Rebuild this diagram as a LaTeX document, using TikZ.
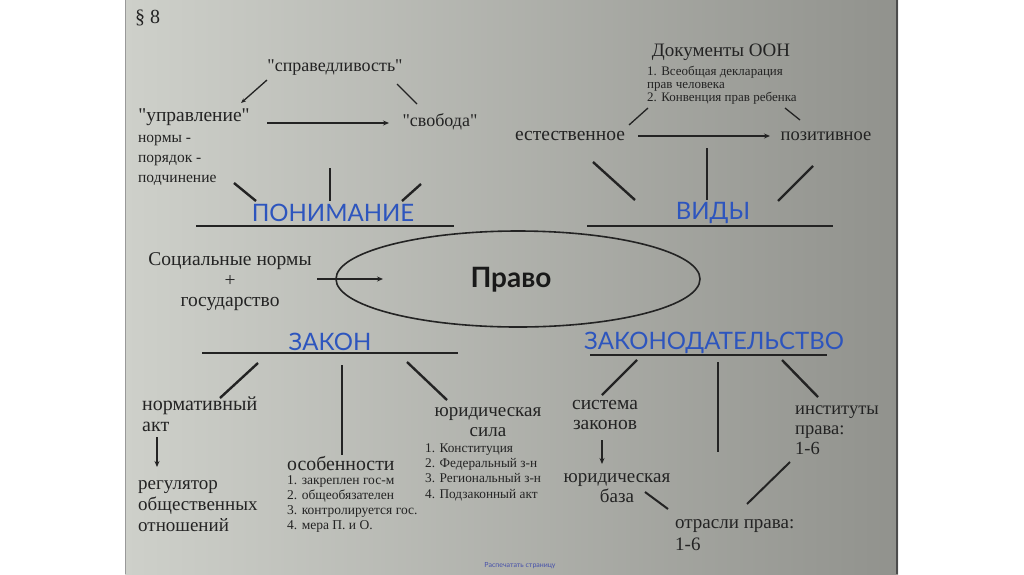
\documentclass[tikz,border=0pt]{standalone}
\usepackage{fontspec}
\setmainfont{Liberation Serif}
\newfontfamily\headfont{Lato}
\usetikzlibrary{arrows.meta,shapes.geometric}
\definecolor{headblue}{RGB}{45,85,190}
\definecolor{ink}{RGB}{35,35,35}
\definecolor{scrL}{RGB}{206,208,202}
\definecolor{scrR}{RGB}{145,146,141}
\definecolor{linkblue}{RGB}{70,80,170}
\newcommand{\q}{\textquotedbl}
\begin{document}
\begin{tikzpicture}[x=1pt,y=-1pt,
  txt/.style n args={2}{inner sep=0pt, text=ink, font=\fontsize{#1}{#2}\selectfont},
  head/.style={inner sep=0pt, text=headblue, font=\headfont\fontsize{24}{26}\selectfont},
  br/.style={draw=ink, line width=2.4pt},
  ul/.style={draw=ink, line width=2.6pt},
  arr/.style={draw=ink, line width=1.5pt, -{Stealth[length=6pt,width=5pt]}},
  thin/.style={draw=ink, line width=1.3pt}]
\useasboundingbox (0,0) rectangle (1024,574);
\fill[white] (0,0) rectangle (1024,574);
\shade[left color=scrL, right color=scrR] (125,0) rectangle (898,574);
\draw[line width=1.5pt, black!70] (897,0) -- (897,574);
\draw[line width=1pt, black!40] (125.5,0) -- (125.5,574);

% ---- top left
\node[txt={20}{22}, anchor=west] (sec) at (135,18) {§ 8};
\node[txt={18}{20}] (sprav) at (335,68) {\q справедливость\q};
\node[txt={19.5}{20}] (uprav) at (194,117) {\q управление\q};
\node[txt={15.5}{20}, anchor=west, align=left] (normy) at (138,160) {нормы -\\порядок -\\подчинение};
\node[txt={18}{20}] (svob) at (440,122) {\q свобода\q};
\node[head] (ponim) at (333,213) {ПОНИМАНИЕ};

\coordinate (a1) at (267,80); \coordinate (a2) at (241,103);
\draw[thin, -{Stealth[length=5pt,width=4pt]}] (a1) -- (a2);
\coordinate (b1) at (397,84); \coordinate (b2) at (417,104);
\draw[thin] (b1) -- (b2);
\coordinate (c1) at (267,123); \coordinate (c2) at (389,123);
\draw[arr] (c1) -- (c2);
\coordinate (p1a) at (234,183); \coordinate (p1b) at (256,201);
\coordinate (p2a) at (330,168); \coordinate (p2b) at (330,201);
\coordinate (p3a) at (421,184); \coordinate (p3b) at (402,201);
\draw[br] (p1a) -- (p1b); \draw[br] (p2a) -- (p2b); \draw[br] (p3a) -- (p3b);
\coordinate (u1a) at (196,226); \coordinate (u1b) at (454,226);
\draw[ul] (u1a) -- (u1b);

% ---- top right
\node[txt={19}{20}] (docs) at (721,52) {Документы ООН};
\node[txt={13}{13}, anchor=west, align=left] (docl) at (647,85) {1. Всеобщая декларация\\прав человека\\2. Конвенция прав ребенка};
\node[txt={19.5}{20}] (est) at (570,136) {естественное};
\node[txt={18.5}{20}] (poz) at (826,136) {позитивное};
\node[head] (vidy) at (713,213) {ВИДЫ};
\coordinate (d1) at (648,108); \coordinate (d2) at (629,125);
\coordinate (e1) at (785,108); \coordinate (e2) at (800,120);
\draw[thin] (d1) -- (d2); \draw[thin] (e1) -- (e2);
\coordinate (f1) at (638,136); \coordinate (f2) at (770,136);
\draw[arr] (f1) -- (f2);
\coordinate (v1a) at (593,162); \coordinate (v1b) at (635,200);
\coordinate (v2a) at (707,148); \coordinate (v2b) at (707,200);
\coordinate (v3a) at (813,166); \coordinate (v3b) at (778,201);
\draw[br] (v1a) -- (v1b); \draw[br] (v2a) -- (v2b); \draw[br] (v3a) -- (v3b);
\coordinate (u2a) at (587,226); \coordinate (u2b) at (833,226);
\draw[ul] (u2a) -- (u2b);

% ---- middle
\node[txt={19.5}{20.5}, align=center] (socn) at (230,282) {Социальные нормы\\+\\государство};
\node[draw=ink, line width=1.6pt, ellipse, minimum width=364pt, minimum height=96pt, inner sep=0pt] (ell) at (518,279) {};
\node[inner sep=0pt, text=black!90, font=\headfont\bfseries\fontsize{28}{30}\selectfont] (pravo) at (511,280) {Право};
\coordinate (g1) at (317,279); \coordinate (g2) at (383,279);
\draw[arr] (g1) -- (g2);

% ---- bottom left
\node[head] (zakon) at (330,342) {ЗАКОН};
\coordinate (u3a) at (202,353); \coordinate (u3b) at (458,353);
\draw[ul] (u3a) -- (u3b);
\coordinate (z1a) at (258,363); \coordinate (z1b) at (220,398);
\coordinate (z2a) at (342,365); \coordinate (z2b) at (342,455);
\coordinate (z3a) at (407,362); \coordinate (z3b) at (447,400);
\draw[br] (z1a) -- (z1b); \draw[br] (z2a) -- (z2b); \draw[br] (z3a) -- (z3b);
\node[txt={20}{21.5}, anchor=west, align=left] (nakt) at (142,414) {нормативный\\акт};
\coordinate (h1) at (157,437); \coordinate (h2) at (157,467);
\draw[arr] (h1) -- (h2);
\node[txt={19}{21}, anchor=west, align=left] (regul) at (138,506) {регулятор\\общественных\\отношений};
\node[txt={19.8}{21}, anchor=west] (osob) at (287,463) {особенности};
\node[txt={13.5}{15.3}, anchor=west, align=left] (osobl) at (287,504) {1. закреплен гос-м\\2. общеобязателен\\3. контролируется гос.\\4. мера П. и О.};
\node[txt={19}{20}, align=center] (ysila) at (488,422) {юридическая\\сила};
\node[txt={13.3}{15.3}, anchor=west, align=left] (silal) at (425,472) {1. Конституция\\2. Федеральный з-н\\3. Региональный з-н\\4. Подзаконный акт};

% ---- bottom right
\node[head] (zakonod) at (714,343) {ЗАКОНОДАТЕЛЬСТВО};
\coordinate (u4a) at (590,355); \coordinate (u4b) at (827,355);
\draw[ul] (u4a) -- (u4b);
\coordinate (k1a) at (637,360); \coordinate (k1b) at (602,395);
\coordinate (k2a) at (718,362); \coordinate (k2b) at (718,452);
\coordinate (k3a) at (782,360); \coordinate (k3b) at (818,397);
\draw[br] (k1a) -- (k1b); \draw[br] (k2a) -- (k2b); \draw[br] (k3a) -- (k3b);
\node[txt={19.5}{20}, align=center] (sist) at (605,415) {система\\законов};
\coordinate (m1) at (602,440); \coordinate (m2) at (602,464);
\draw[arr] (m1) -- (m2);
\node[txt={19}{20}, align=center] (ybaza) at (617,488) {юридическая\\база};
\coordinate (n1) at (645,492); \coordinate (n2) at (668,509);
\draw[br, line width=2pt] (n1) -- (n2);
\node[txt={19}{22.5}, anchor=west, align=left] (otr) at (675,535) {отрасли права:\\1-6};
\coordinate (o1) at (747,504); \coordinate (o2) at (790,462);
\draw[br, line width=2pt] (o1) -- (o2);
\node[txt={18.5}{20}, anchor=west, align=left] (inst) at (795,430) {институты\\права:\\1-6};

\node[inner sep=0pt, text=linkblue, font=\headfont\fontsize{7}{8}\selectfont] (foot) at (520,566) {Распечатать страницу};
\end{tikzpicture}
\end{document}
